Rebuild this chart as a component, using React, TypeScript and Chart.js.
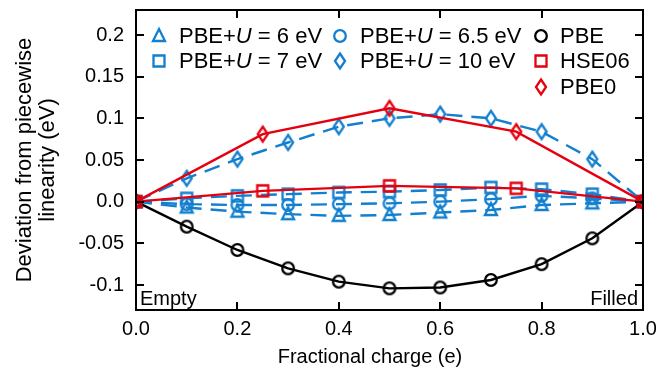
import React, { useEffect, useRef } from "react";
import { Chart, registerables } from "chart.js";

Chart.register(...registerables);

// ---- data ----
const chargeFine = [0, 0.1, 0.2, 0.3, 0.4, 0.5, 0.6, 0.7, 0.8, 0.9, 1.0];
const chargeCoarse = [0, 0.25, 0.5, 0.75, 1.0];

const pbeU6 = [0, -0.007, -0.012, -0.015, -0.017, -0.016, -0.013, -0.01, -0.004, -0.002, 0];
const pbeU65 = [0, -0.003, -0.004, -0.004, -0.003, -0.002, 0.0, 0.003, 0.007, 0.004, 0];
const pbeU7 = [0, 0.004, 0.007, 0.009, 0.011, 0.012, 0.014, 0.017, 0.015, 0.009, 0];
const pbeU10 = [0, 0.028, 0.051, 0.071, 0.09, 0.1, 0.105, 0.1, 0.084, 0.051, 0];
const pbe = [0, -0.03, -0.058, -0.08, -0.096, -0.104, -0.103, -0.094, -0.075, -0.044, 0];
const hse06 = [0, 0.013, 0.019, 0.016, 0];
const pbe0 = [0, 0.081, 0.112, 0.084, 0];

const xTicks = [0, 0.2, 0.4, 0.6, 0.8, 1.0];
const xTickLabels = ["0.0", "0.2", "0.4", "0.6", "0.8", "1.0"];
const yTicks = [-0.1, -0.05, 0, 0.05, 0.1, 0.15, 0.2];
const yTickLabels = ["-0.1", "-0.05", "0.0", "0.05", "0.1", "0.15", "0.2"];

const xTitle = "Fractional charge (e)";
const yTitleLines = ["Deviation from piecewise", "linearity (eV)"];
const cornerLeft = "Empty";
const cornerRight = "Filled";

const BLUE = "#127fcf";
const RED = "#e5000f";
const BLACK = "#000000";
const FONT = "'Liberation Sans', Arial, Helvetica, sans-serif";

type Shape = "triangle" | "circle" | "square" | "diamond";

function makeMarker(shape: Shape, color: string): HTMLCanvasElement {
  const c = document.createElement("canvas");
  c.width = 22;
  c.height = 22;
  const ctx = c.getContext("2d")!;
  ctx.strokeStyle = color;
  ctx.lineWidth = 2.3;
  ctx.lineJoin = "miter";
  const cx = 11, cy = 11;
  ctx.beginPath();
  if (shape === "circle") {
    ctx.arc(cx, cy, 5.8, 0, Math.PI * 2);
  } else if (shape === "square") {
    ctx.rect(cx - 5.5, cy - 5.5, 11, 11);
  } else if (shape === "triangle") {
    ctx.moveTo(cx, cy - 7);
    ctx.lineTo(cx + 6, cy + 5);
    ctx.lineTo(cx - 6, cy + 5);
    ctx.closePath();
  } else {
    ctx.moveTo(cx, cy - 7.5);
    ctx.lineTo(cx + 5, cy);
    ctx.lineTo(cx, cy + 7.5);
    ctx.lineTo(cx - 5, cy);
    ctx.closePath();
  }
  ctx.stroke();
  return c;
}

const pts = (xs: number[], ys: number[]) => xs.map((x, i) => ({ x, y: ys[i] }));

export default function App() {
  const ref = useRef<HTMLCanvasElement>(null);

  useEffect(() => {
    const canvas = ref.current!;
    const mk = {
      triB: makeMarker("triangle", BLUE),
      cirB: makeMarker("circle", BLUE),
      sqB: makeMarker("square", BLUE),
      diaB: makeMarker("diamond", BLUE),
      cirK: makeMarker("circle", BLACK),
      sqR: makeMarker("square", RED),
      diaR: makeMarker("diamond", RED),
    };

    const legendItems = [
      { marker: mk.triB, parts: ["PBE+", "U", " = 6 eV"], col: 0, row: 0 },
      { marker: mk.sqB, parts: ["PBE+", "U", " = 7 eV"], col: 0, row: 1 },
      { marker: mk.cirB, parts: ["PBE+", "U", " = 6.5 eV"], col: 1, row: 0 },
      { marker: mk.diaB, parts: ["PBE+", "U", " = 10 eV"], col: 1, row: 1 },
      { marker: mk.cirK, parts: ["PBE"], col: 2, row: 0 },
      { marker: mk.sqR, parts: ["HSE06"], col: 2, row: 1 },
      { marker: mk.diaR, parts: ["PBE0"], col: 2, row: 2 },
    ];
    const colMarkerX = [159, 340, 541];
    const colTextX = [179, 360, 560];
    const rowY = [36, 61, 87];

    const decor = {
      id: "decor",
      afterDatasetsDraw(chart: any) {
        const ctx = chart.ctx as CanvasRenderingContext2D;
        const a = chart.chartArea;
        const xs = chart.scales.x;
        const ys = chart.scales.y;
        ctx.save();
        ctx.strokeStyle = "#000";
        ctx.lineWidth = 2;
        ctx.strokeRect(a.left, a.top, a.right - a.left, a.bottom - a.top);
        const tl = 8;
        ctx.beginPath();
        xTicks.forEach((v) => {
          const px = Math.round(xs.getPixelForValue(v));
          ctx.moveTo(px, a.bottom);
          ctx.lineTo(px, a.bottom - tl);
          ctx.moveTo(px, a.top);
          ctx.lineTo(px, a.top + tl);
        });
        yTicks.forEach((v) => {
          const py = Math.round(ys.getPixelForValue(v));
          ctx.moveTo(a.left, py);
          ctx.lineTo(a.left + tl, py);
          ctx.moveTo(a.right, py);
          ctx.lineTo(a.right - tl, py);
        });
        ctx.stroke();
        ctx.restore();
      },
      afterDraw(chart: any) {
        const ctx = chart.ctx as CanvasRenderingContext2D;
        const a = chart.chartArea;
        ctx.save();
        ctx.fillStyle = "#000";
        // legend
        ctx.textBaseline = "middle";
        ctx.textAlign = "left";
        legendItems.forEach((it) => {
          const y = rowY[it.row];
          const mx = colMarkerX[it.col];
          ctx.drawImage(it.marker, mx - 11, y - 11);
          let x = colTextX[it.col];
          it.parts.forEach((p, i) => {
            ctx.font = (i === 1 ? "italic " : "") + "22px " + FONT;
            ctx.fillText(p, x, y + 1);
            x += ctx.measureText(p).width;
          });
        });
        // corner labels
        ctx.font = "20px " + FONT;
        ctx.textBaseline = "alphabetic";
        ctx.textAlign = "left";
        ctx.fillText(cornerLeft, a.left + 4, a.bottom - 5);
        ctx.textAlign = "right";
        ctx.fillText(cornerRight, a.right - 5, a.bottom - 5);
        // x title
        ctx.font = "20px " + FONT;
        ctx.textAlign = "center";
        ctx.textBaseline = "middle";
        ctx.fillText(xTitle, 370, 357);
        // y title
        ctx.font = "22px " + FONT;
        ctx.translate(0, (a.top + a.bottom) / 2);
        ctx.rotate(-Math.PI / 2);
        ctx.fillText(yTitleLines[0], 0, 25);
        ctx.fillText(yTitleLines[1], 0, 48);
        ctx.restore();
      },
    };

    const ds = (label: string, xs: number[], ys: number[], color: string, marker: HTMLCanvasElement, dashed: boolean, order: number) => ({
      label,
      data: pts(xs, ys),
      borderColor: color,
      backgroundColor: color,
      borderWidth: 2.4,
      borderDash: dashed ? [16, 9] : [],
      pointStyle: marker,
      pointRadius: 6,
      pointHoverRadius: 6,
      tension: 0,
      fill: false,
      order,
    });

    const chart = new Chart(canvas, {
      type: "line",
      data: {
        datasets: [
          ds("PBE0", chargeCoarse, pbe0, RED, mk.diaR, false, 0),
          ds("HSE06", chargeCoarse, hse06, RED, mk.sqR, false, 1),
          ds("PBE", chargeFine, pbe, BLACK, mk.cirK, false, 2),
          ds("PBE+U = 10 eV", chargeFine, pbeU10, BLUE, mk.diaB, true, 3),
          ds("PBE+U = 7 eV", chargeFine, pbeU7, BLUE, mk.sqB, true, 4),
          ds("PBE+U = 6.5 eV", chargeFine, pbeU65, BLUE, mk.cirB, true, 5),
          ds("PBE+U = 6 eV", chargeFine, pbeU6, BLUE, mk.triB, true, 6),
        ] as any,
      },
      options: {
        animation: false,
        responsive: false,
        devicePixelRatio: 1,
        layout: { padding: { left: 0, top: 10, right: 26, bottom: 0 } },
        plugins: { legend: { display: false }, tooltip: { enabled: false } },
        events: [],
        scales: {
          x: {
            type: "linear",
            min: 0,
            max: 1,
            grid: { display: false, drawTicks: false },
            border: { display: false },
            afterFit: (s: any) => { s.height = 62; s.paddingLeft = 0; s.paddingRight = 0; },
            afterBuildTicks: (s: any) => { s.ticks = xTicks.map((v) => ({ value: v })); },
            ticks: {
              autoSkip: false,
              maxRotation: 0,
              padding: 7,
              color: "#000",
              font: { family: FONT, size: 20 },
              callback: (v: any) => { const i = xTicks.findIndex((t) => Math.abs(t - v) < 1e-9); return i >= 0 ? xTickLabels[i] : ""; },
            },
          },
          y: {
            type: "linear",
            min: -0.13,
            max: 0.23,
            grid: { display: false, drawTicks: false },
            border: { display: false },
            afterFit: (s: any) => { s.width = 136; s.paddingTop = 0; s.paddingBottom = 0; },
            afterBuildTicks: (s: any) => { s.ticks = yTicks.map((v) => ({ value: v })); },
            ticks: {
              autoSkip: false,
              padding: 12,
              color: "#000",
              font: { family: FONT, size: 20 },
              callback: (v: any) => { const i = yTicks.findIndex((t) => Math.abs(t - v) < 1e-9); return i >= 0 ? yTickLabels[i] : ""; },
            },
          },
        },
      } as any,
      plugins: [decor],
    });
    return () => chart.destroy();
  }, []);

  return (
    <canvas
      ref={ref}
      width={669}
      height={372}
      style={{ position: "absolute", left: 0, top: 0, width: 669, height: 372 }}
    />
  );
}
